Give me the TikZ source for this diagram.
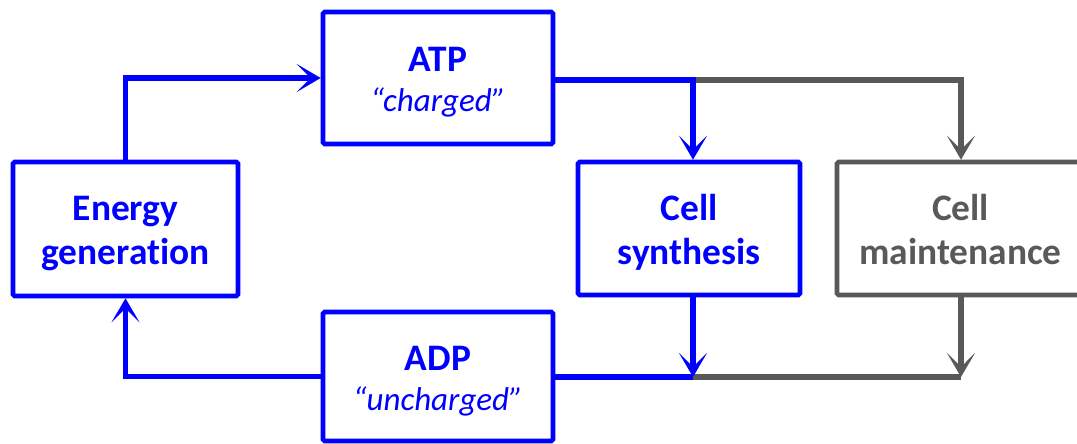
\documentclass[tikz,border=0pt]{standalone}
\usepackage{fontspec}
\setmainfont{Carlito}[Ligatures=NoCommon]
\usetikzlibrary{arrows.meta}
\definecolor{myblue}{RGB}{0,0,255}
\definecolor{mygray}{RGB}{89,89,89}
\newcommand\lowtext[1]{\raisebox{-2.5pt}[\height][\depth]{\begin{tabular}{@{}c@{}}#1\end{tabular}}}
\newcommand\subtext[1]{{\fontsize{16.5}{20}\selectfont\mdseries\itshape #1}}
\begin{document}
\begin{tikzpicture}[x=0.5pt,y=-0.5pt,
  box/.style={draw, line width=2.3pt, rounded corners=0.8pt, inner sep=0pt,
    font=\fontsize{18.7}{22}\selectfont\bfseries},
  bluebox/.style={box, draw=myblue, text=myblue},
  graybox/.style={box, draw=mygray, text=mygray},
  conn/.style={line width=2.6pt, line join=miter},
  tip/.style={-{Stealth[length=12pt,width=14pt,inset=7pt]}}
]
\useasboundingbox (0,0) rectangle (1077,444);
\node[bluebox, minimum width=115pt, minimum height=66pt] (atp) at (438,78)
  {\lowtext{ATP\\[-2pt]\subtext{“charged”}}};
\node[bluebox, minimum width=112.5pt, minimum height=67pt] (energy) at (125.5,229) {\lowtext{Energy\\generation}};
\node[bluebox, minimum width=115pt, minimum height=64.5pt] (adp) at (438,376.5)
  {\lowtext{ADP\\[-2pt]\subtext{“uncharged”}}};
\node[bluebox, minimum width=111pt, minimum height=66.5pt] (synth) at (689,228.5) {\lowtext{Cell\\synthesis}};
\node[graybox, minimum width=123.5pt, minimum height=66.5pt] (maint) at (960.5,228.5) {\lowtext{Cell\\maintenance}};
\coordinate (jt) at (693,80);
\coordinate (mt) at (961,80);
\coordinate (jb) at (693,377);
\coordinate (mb) at (961,377);
% left loop
\draw[conn, myblue, tip] (energy.north) |- (atp.west);
\draw[conn, myblue, tip] (adp.west) -| (energy.south);
% top right
\draw[conn, mygray, tip] (jt) -- (mt) -- (maint.north -| mt);
\draw[conn, myblue, tip] (atp.east |- jt) -- (jt) -- (synth.north -| jt);
% bottom right
\draw[conn, mygray, tip] (maint.south -| mb) -- (mb);
\draw[conn, mygray] (jb) -- (mb);
\draw[conn, myblue] (adp.east |- jb) -- (jb);
\draw[conn, myblue, tip] (synth.south -| jb) -- (jb);
\end{tikzpicture}
\end{document}
